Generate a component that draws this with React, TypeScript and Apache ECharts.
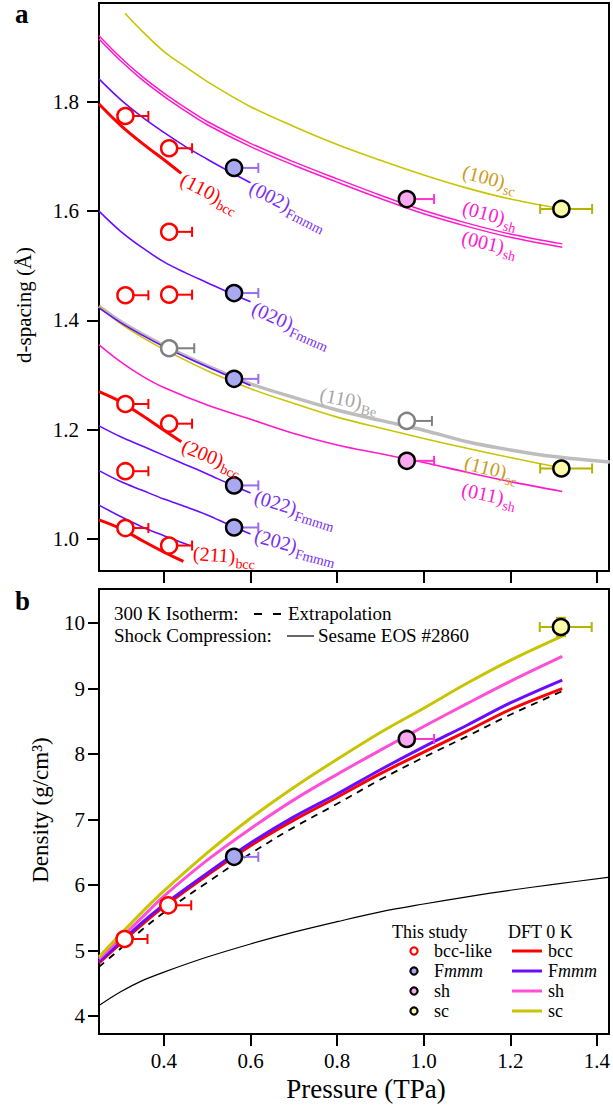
import { useEffect, useRef } from "react";
import * as echarts from "echarts";

const FONT = '"Liberation Serif", "Times New Roman", serif';

// ---------------- axis ticks ----------------
const pressureTicks = [0.4, 0.6, 0.8, 1.0, 1.2, 1.4];
const dTicks = [1.0, 1.2, 1.4, 1.6, 1.8];
const densityTicks = [4, 5, 6, 7, 8, 9, 10];

// ---------------- panel a: measured d-spacings [P (TPa), d (Å)] ----------------
const bccLikeA = [
  [0.311, 1.774], [0.412, 1.715], [0.412, 1.562], [0.311, 1.446], [0.412, 1.447],
  [0.311, 1.247], [0.412, 1.211], [0.311, 1.124], [0.311, 1.020], [0.412, 0.988],
];
const fmmmA = [[0.562, 1.679], [0.562, 1.450], [0.562, 1.293], [0.562, 1.098], [0.562, 1.021]];
const shA = [[0.961, 1.622], [0.961, 1.143]];
const scA = [[1.318, 1.604], [1.318, 1.129]];
const beA = [[0.412, 1.349], [0.961, 1.216]];
// pressure error [minus, plus]
const bccErr = [0, 0.053];
const fmmmErr = [0.016, 0.056];
const shErr = [0, 0.063];
const scErr = [0.049, 0.071];
const beErr = [0, 0.058];

// ---------------- panel a: DFT d-spacing curves ----------------
const sc100 = [[0.31, 1.962], [0.35, 1.929], [0.4, 1.892], [0.45, 1.864], [0.5, 1.837], [0.6, 1.791], [0.7, 1.755], [0.8, 1.722], [0.9, 1.693], [1.0, 1.666], [1.1, 1.642], [1.2, 1.622], [1.32, 1.604]];
const sh010 = [[0.25, 1.921], [0.3, 1.881], [0.35, 1.846], [0.4, 1.816], [0.45, 1.789], [0.5, 1.764], [0.6, 1.724], [0.7, 1.69], [0.8, 1.659], [0.9, 1.629], [1.0, 1.601], [1.1, 1.578], [1.2, 1.558], [1.32, 1.54]];
const sh001 = [[0.25, 1.915], [0.3, 1.875], [0.35, 1.84], [0.4, 1.81], [0.45, 1.783], [0.5, 1.758], [0.6, 1.718], [0.7, 1.684], [0.8, 1.653], [0.9, 1.623], [1.0, 1.595], [1.1, 1.572], [1.2, 1.552], [1.32, 1.534]];
const fmmm002 = [[0.25, 1.842], [0.3, 1.804], [0.35, 1.772], [0.4, 1.744], [0.45, 1.718], [0.5, 1.695], [0.55, 1.673], [0.6, 1.652]];
const bcc110 = [[0.25, 1.796], [0.3, 1.757], [0.35, 1.724], [0.4, 1.694], [0.44, 1.669]];
const fmmm020 = [[0.25, 1.6], [0.3, 1.563], [0.35, 1.533], [0.4, 1.507], [0.45, 1.487], [0.5, 1.469], [0.55, 1.451], [0.6, 1.434]];
const fmmm111 = [[0.25, 1.423], [0.3, 1.396], [0.35, 1.373], [0.4, 1.352], [0.45, 1.333], [0.5, 1.315], [0.55, 1.298], [0.6, 1.281]];
const be110 = [[0.25, 1.426], [0.3, 1.398], [0.35, 1.375], [0.4, 1.354], [0.5, 1.317], [0.6, 1.284], [0.7, 1.259], [0.8, 1.236], [0.9, 1.217], [1.0, 1.199], [1.1, 1.178], [1.2, 1.163], [1.3, 1.151], [1.43, 1.141]];
const sc110 = [[0.25, 1.425], [0.3, 1.394], [0.35, 1.369], [0.4, 1.347], [0.5, 1.308], [0.6, 1.275], [0.7, 1.248], [0.8, 1.223], [0.9, 1.203], [1.0, 1.184], [1.1, 1.166], [1.2, 1.149], [1.32, 1.13]];
const sh011 = [[0.25, 1.355], [0.3, 1.324], [0.35, 1.298], [0.4, 1.277], [0.5, 1.245], [0.6, 1.219], [0.7, 1.193], [0.8, 1.172], [0.9, 1.156], [1.0, 1.14], [1.1, 1.122], [1.2, 1.105], [1.32, 1.087]];
const bcc200 = [[0.25, 1.2695], [0.3, 1.251], [0.35, 1.226], [0.4, 1.199], [0.44, 1.178]];
const fmmm022 = [[0.25, 1.207], [0.3, 1.187], [0.35, 1.17], [0.4, 1.153], [0.45, 1.136], [0.5, 1.119], [0.55, 1.101], [0.6, 1.084]];
const fmmm202 = [[0.25, 1.125], [0.3, 1.105], [0.35, 1.089], [0.4, 1.073], [0.45, 1.059], [0.5, 1.044], [0.55, 1.026], [0.6, 1.009]];
const fmmm200 = [[0.25, 1.062], [0.3, 1.041], [0.35, 1.022], [0.4, 1.006], [0.46, 0.988]];
const bcc211 = [[0.25, 1.035], [0.3, 1.019], [0.35, 0.997], [0.4, 0.976], [0.445, 0.959]];

// ---------------- panel b: measured densities [P (TPa), rho (g/cm3)] ----------------
const bccLikeB = [[0.309, 5.176], [0.41, 5.69]];
const fmmmB = [[0.562, 6.43]];
const shB = [[0.961, 8.23]];
const scB = [[1.317, 9.94]];
const shBYErr = 0.1;
const scBYErr = 0.14;

// ---------------- panel b: curves ----------------
const scRho = [[0.25, 4.9], [0.3, 5.25], [0.35, 5.59], [0.4, 5.91], [0.5, 6.49], [0.6, 7.02], [0.7, 7.49], [0.8, 7.92], [0.9, 8.33], [1.0, 8.7], [1.1, 9.08], [1.2, 9.43], [1.32, 9.8]];
const shRho = [[0.25, 4.87], [0.3, 5.19], [0.35, 5.51], [0.4, 5.83], [0.5, 6.38], [0.6, 6.86], [0.7, 7.3], [0.8, 7.69], [0.9, 8.06], [1.0, 8.42], [1.1, 8.77], [1.2, 9.11], [1.32, 9.49]];
const fmmmRho = [[0.25, 4.83], [0.3, 5.13], [0.35, 5.43], [0.4, 5.7], [0.5, 6.18], [0.6, 6.64], [0.7, 7.04], [0.8, 7.39], [0.9, 7.76], [1.0, 8.11], [1.1, 8.44], [1.2, 8.78], [1.32, 9.13]];
const bccRho = [[0.25, 4.81], [0.3, 5.11], [0.35, 5.4], [0.4, 5.67], [0.5, 6.15], [0.6, 6.6], [0.7, 6.99], [0.8, 7.34], [0.9, 7.7], [1.0, 8.03], [1.1, 8.35], [1.2, 8.68], [1.32, 9.0]];
const isothermRho = [[0.25, 4.75], [0.3, 5.03], [0.35, 5.32], [0.4, 5.58], [0.5, 6.04], [0.6, 6.48], [0.7, 6.88], [0.8, 7.24], [0.9, 7.61], [1.0, 7.95], [1.1, 8.27], [1.2, 8.6], [1.32, 8.96]];
const sesameRho = [[0.25, 4.16], [0.3, 4.37], [0.35, 4.54], [0.4, 4.67], [0.5, 4.9], [0.6, 5.1], [0.7, 5.28], [0.8, 5.44], [0.9, 5.59], [1.0, 5.71], [1.1, 5.82], [1.2, 5.92], [1.3, 6.01], [1.43, 6.12]];

// ---------------- colours ----------------
const RED = "#ff0000";
const PURPLE = "#6a0dff";
const PINK_A = "#ff1acb";
const PINK_B = "#ff4fd6";
const YELLOW = "#c9c400";
const GRAY = "#bdbdbd";
const GOLD_TXT = "#cc9a1a";
const PURPLE_TXT = "#7a2ff0";
const FMMM_FILL = "#a9a9f2";
const SH_FILL = "#f9a9ef";
const SC_FILL = "#fbfbaa";

let measureCtx: CanvasRenderingContext2D | null = null;
function textWidth(text: string, size: number, style = "normal") {
  if (!measureCtx) measureCtx = document.createElement("canvas").getContext("2d");
  if (!measureCtx) return text.length * size * 0.5;
  measureCtx.font = `${style} ${size}px ${FONT}`;
  return measureCtx.measureText(text).width;
}

function curve(data: number[][], color: string, width: number, xi: number, type: any = "solid") {
  return {
    type: "line", xAxisIndex: xi, yAxisIndex: xi, data, showSymbol: false, symbol: "none",
    smooth: 0.35, lineStyle: { color, width, type }, z: 2, silent: true,
  };
}

function errSeries(points: number[][], err: number[], yErr: number, color: string, xi: number) {
  return {
    type: "custom", xAxisIndex: xi, yAxisIndex: xi, z: 3, silent: true,
    data: points.map((p) => [p[0], p[1], p[0] - err[0], p[0] + err[1], p[1] - yErr, p[1] + yErr]),
    encode: { x: 0, y: 1 },
    renderItem: (_params: any, api: any) => {
      const x = api.value(0), y = api.value(1), lo = api.value(2), hi = api.value(3);
      const ylo = api.value(4), yhi = api.value(5);
      const c = api.coord([x, y]);
      const l = api.coord([lo, y]);
      const h = api.coord([hi, y]);
      const st = { stroke: color, lineWidth: 2 };
      const cap = 5;
      const ch: any[] = [{ type: "line", shape: { x1: l[0], y1: c[1], x2: h[0], y2: c[1] }, style: st }];
      if (hi > x) ch.push({ type: "line", shape: { x1: h[0], y1: c[1] - cap, x2: h[0], y2: c[1] + cap }, style: st });
      if (lo < x) ch.push({ type: "line", shape: { x1: l[0], y1: c[1] - cap, x2: l[0], y2: c[1] + cap }, style: st });
      if (yhi > y) {
        const t = api.coord([x, yhi]);
        const b = api.coord([x, ylo]);
        ch.push({ type: "line", shape: { x1: c[0], y1: t[1], x2: c[0], y2: b[1] }, style: st });
        ch.push({ type: "line", shape: { x1: c[0] - cap, y1: t[1], x2: c[0] + cap, y2: t[1] }, style: st });
        ch.push({ type: "line", shape: { x1: c[0] - cap, y1: b[1], x2: c[0] + cap, y2: b[1] }, style: st });
      }
      return { type: "group", children: ch };
    },
  };
}

function markers(points: number[][], fill: string, border: string, xi: number) {
  return {
    type: "scatter", xAxisIndex: xi, yAxisIndex: xi, data: points, symbol: "circle", symbolSize: 16,
    itemStyle: { color: fill, borderColor: border, borderWidth: 2.5, opacity: 1 }, z: 4, silent: true,
  };
}

function text(t: string, x: number, y: number, size: number, color = "#000", extra: any = {}) {
  return {
    type: "text", x, y, rotation: extra.rotation || 0, z: 20, silent: true,
    style: {
      text: t, fill: color, fontSize: size, fontFamily: FONT,
      fontWeight: extra.weight || "normal", fontStyle: extra.fontStyle || "normal",
      textAlign: extra.align || "left", align: extra.align || "left",
      textVerticalAlign: "middle", verticalAlign: "middle", rich: extra.rich,
    },
  };
}

const LBL = 20;
const SUB = 14;
function curveLabel(main: string, sub: string, x: number, y: number, deg: number, color: string) {
  const w = textWidth(main, LBL);
  return {
    type: "group", x, y, rotation: (-deg * Math.PI) / 180, silent: true,
    children: [text(main, 0, 0, LBL, color), text(sub, w + 0.5, 7.5, SUB, color)],
  };
}

function fmmmRich(x: number, y: number, size: number) {
  return text("{r|F}{i|mmm}", x, y, size, "#000", {
    rich: {
      r: { fontSize: size, fontFamily: FONT, fill: "#000" },
      i: { fontSize: size, fontFamily: FONT, fontStyle: "italic", fill: "#000" },
    },
  });
}

export default function App() {
  const ref = useRef<HTMLDivElement>(null);
  useEffect(() => {
    document.body.style.margin = "0";
    if (!ref.current) return;
    const chart = echarts.init(ref.current, null, { renderer: "svg" });

    const tickStyle = { show: true, inside: false, length: 12, lineStyle: { color: "#000", width: 2 } };
    const labelBase = { color: "#000", fontSize: 21, fontFamily: FONT };

    const rows = [951, 971, 991, 1011];
    const LG = 18;
    const legendGraphics: any[] = [
      text("This study", 392, 932, LG),
      text("DFT 0 K", 508, 932, LG),
      text("bcc-like", 434, rows[0], LG),
      fmmmRich(434, rows[1], LG),
      text("sh", 434, rows[2], LG),
      text("sc", 434, rows[3], LG),
      text("bcc", 548, rows[0], LG),
      fmmmRich(548, rows[1], LG),
      text("sh", 548, rows[2], LG),
      text("sc", 548, rows[3], LG),
    ];
    const legendMarkers = [
      ["#fff", RED], [FMMM_FILL, "#000"], [SH_FILL, "#000"], [SC_FILL, "#000"],
    ];
    legendMarkers.forEach((m, i) => {
      legendGraphics.push({
        type: "circle", shape: { cx: 414, cy: rows[i], r: 3.6 }, z: 20, silent: true,
        style: { fill: m[0], stroke: m[1], lineWidth: 2.2 },
      });
    });
    [RED, PURPLE, PINK_B, YELLOW].forEach((c, i) => {
      legendGraphics.push({
        type: "line", shape: { x1: 512, y1: rows[i], x2: 542, y2: rows[i] }, z: 20, silent: true,
        style: { stroke: c, lineWidth: 3 },
      });
    });

    const option: any = {
      animation: false,
      grid: [
        { left: 99, top: 3, width: 510, height: 568, show: true, borderColor: "#000", borderWidth: 2, backgroundColor: "transparent" },
        { left: 99, top: 589, width: 510, height: 445, show: true, borderColor: "#000", borderWidth: 2, backgroundColor: "transparent" },
      ],
      xAxis: [
        {
          gridIndex: 0, type: "value", min: 0.25, max: 1.428,
          axisLine: { show: false }, splitLine: { show: false },
          axisTick: { ...tickStyle, customValues: pressureTicks },
          axisLabel: { show: false },
        },
        {
          gridIndex: 1, type: "value", min: 0.25, max: 1.428,
          axisLine: { show: false }, splitLine: { show: false },
          axisTick: { ...tickStyle, customValues: pressureTicks },
          axisLabel: { ...labelBase, margin: 16, customValues: pressureTicks, formatter: (v: number) => v.toFixed(1) },
        },
      ],
      yAxis: [
        {
          gridIndex: 0, type: "value", min: 0.9414, max: 1.9808,
          axisLine: { show: false }, splitLine: { show: false },
          axisTick: { ...tickStyle, customValues: dTicks },
          axisLabel: { ...labelBase, margin: 20, customValues: dTicks, formatter: (v: number) => v.toFixed(1) },
        },
        {
          gridIndex: 1, type: "value", min: 3.725, max: 10.52,
          axisLine: { show: false }, splitLine: { show: false },
          axisTick: { ...tickStyle, length: 11, customValues: densityTicks },
          axisLabel: { ...labelBase, margin: 14, customValues: densityTicks, formatter: (v: number) => String(Math.round(v)) },
        },
      ],
      series: [
        // panel a curves
        curve(sc100, YELLOW, 1.6, 0),
        curve(sh010, PINK_A, 1.5, 0),
        curve(sh001, PINK_A, 1.5, 0),
        curve(fmmm002, PURPLE, 1.6, 0),
        curve(bcc110, RED, 3, 0),
        curve(fmmm020, PURPLE, 1.6, 0),
        curve(be110, GRAY, 3.5, 0),
        curve(sc110, YELLOW, 1.6, 0),
        curve(fmmm111, PURPLE, 1.6, 0),
        curve(sh011, PINK_A, 1.6, 0),
        curve(bcc200, RED, 3, 0),
        curve(fmmm022, PURPLE, 1.6, 0),
        curve(fmmm202, PURPLE, 1.6, 0),
        curve(fmmm200, PURPLE, 1.6, 0),
        curve(bcc211, RED, 3, 0),
        // panel a error bars + markers
        errSeries(bccLikeA, bccErr, 0, RED, 0),
        errSeries(fmmmA, fmmmErr, 0, "#9a6cf0", 0),
        errSeries(shA, shErr, 0, "#ff33cc", 0),
        errSeries(scA, scErr, 0, "#b5b200", 0),
        errSeries(beA, beErr, 0, "#808080", 0),
        markers(bccLikeA, "#fff", RED, 0),
        markers(fmmmA, FMMM_FILL, "#000", 0),
        markers(shA, SH_FILL, "#000", 0),
        markers(scA, SC_FILL, "#000", 0),
        markers(beA, "#fff", "#808080", 0),
        // panel b curves
        curve(sesameRho, "#000", 1.2, 1),
        curve(isothermRho, "#000", 1.8, 1, [7, 6]),
        curve(bccRho, RED, 3, 1),
        curve(fmmmRho, PURPLE, 3, 1),
        curve(shRho, PINK_B, 3, 1),
        curve(scRho, YELLOW, 3, 1),
        // panel b error bars + markers
        errSeries(bccLikeB, bccErr, 0, RED, 1),
        errSeries(fmmmB, fmmmErr, 0, "#9a6cf0", 1),
        errSeries(shB, shErr, shBYErr, "#ff33cc", 1),
        errSeries(scB, scErr, scBYErr, "#b5b200", 1),
        markers(bccLikeB, "#fff", RED, 1),
        markers(fmmmB, FMMM_FILL, "#000", 1),
        markers(shB, SH_FILL, "#000", 1),
        markers(scB, SC_FILL, "#000", 1),
      ],
      graphic: [
        text("a", 15, 14, 27, "#000", { weight: "bold" }),
        text("b", 15, 601, 27, "#000", { weight: "bold" }),
        text("d-spacing (Å)", 24, 305, 21, "#000", { rotation: Math.PI / 2, align: "center" }),
        text("Density (g/cm³)", 40, 810, 23, "#000", { rotation: Math.PI / 2, align: "center" }),
        text("Pressure (TPa)", 366, 1089, 27, "#000", { align: "center" }),
        // curve labels panel a
        curveLabel("(110)", "bcc", 182, 178, 27, RED),
        curveLabel("(002)", "Fmmm", 251, 186, 27, PURPLE_TXT),
        curveLabel("(100)", "sc", 463, 171, 15, GOLD_TXT),
        curveLabel("(010)", "sh", 463, 207, 15, PINK_A),
        curveLabel("(001)", "sh", 462, 237, 13, PINK_A),
        curveLabel("(020)", "Fmmm", 253, 307, 24, PURPLE_TXT),
        curveLabel("(110)", "Be", 320, 394, 11, "#a6a6a6"),
        curveLabel("(200)", "bcc", 183, 445, 22, RED),
        curveLabel("(110)", "sc", 465, 462, 14, GOLD_TXT),
        curveLabel("(011)", "sh", 462, 489, 12, PINK_A),
        curveLabel("(022)", "Fmmm", 255, 496, 17, PURPLE_TXT),
        curveLabel("(202)", "Fmmm", 255, 535, 15, PURPLE_TXT),
        curveLabel("(211)", "bcc", 193, 553, 4, RED),
        // panel b annotations
        text("300 K Isotherm:", 114, 613, 19),
        { type: "line", shape: { x1: 254, y1: 614, x2: 262, y2: 614 }, style: { stroke: "#000", lineWidth: 2 }, z: 20, silent: true },
        { type: "line", shape: { x1: 273, y1: 614, x2: 281, y2: 614 }, style: { stroke: "#000", lineWidth: 2 }, z: 20, silent: true },
        text("Extrapolation", 288, 613, 19),
        text("Shock Compression:", 114, 635, 19),
        { type: "line", shape: { x1: 287, y1: 636, x2: 314, y2: 636 }, style: { stroke: "#000", lineWidth: 1.2 }, z: 20, silent: true },
        text("Sesame EOS #2860", 318, 635, 19),
        ...legendGraphics,
      ],
    };
    chart.setOption(option);
    return () => chart.dispose();
  }, []);
  return <div ref={ref} style={{ width: 613, height: 1109 }} />;
}
